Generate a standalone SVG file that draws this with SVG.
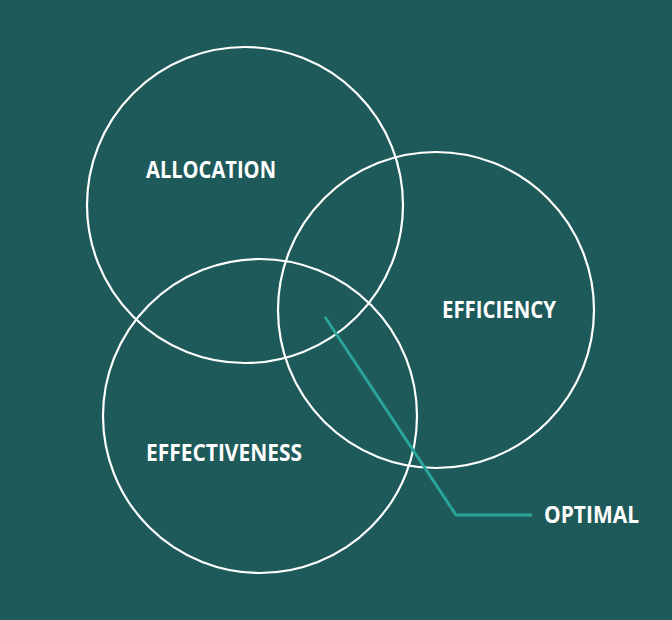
<svg xmlns="http://www.w3.org/2000/svg" width="672" height="620" viewBox="0 0 672 620">
<style>
.ring{fill:none;stroke:#ffffff;stroke-width:2.2}
.lbl{font-family:"Open Sans","Liberation Sans",sans-serif;font-weight:700;font-size:22.5px;fill:#ffffff}
.conn{fill:none;stroke:#2aa59c;stroke-width:3;stroke-linejoin:miter}
</style>
<rect width="672" height="620" fill="#1e5a5a"/>
<g id="allocation"><circle class="ring" cx="245" cy="205" r="158"/><text class="lbl" x="146" y="178" textLength="130" lengthAdjust="spacingAndGlyphs">ALLOCATION</text></g>
<g id="efficiency"><circle class="ring" cx="436" cy="310" r="158"/><text class="lbl" x="442" y="318" textLength="114" lengthAdjust="spacingAndGlyphs">EFFICIENCY</text></g>
<g id="effectiveness"><circle class="ring" cx="260" cy="416" r="157"/><text class="lbl" x="146" y="461" textLength="156" lengthAdjust="spacingAndGlyphs">EFFECTIVENESS</text></g>
<g id="optimal"><text class="lbl" x="544" y="523" textLength="95" lengthAdjust="spacingAndGlyphs">OPTIMAL</text></g>
<g id="connectors"><polyline class="conn" points="325,317 456,515 532,515"/></g>
</svg>
